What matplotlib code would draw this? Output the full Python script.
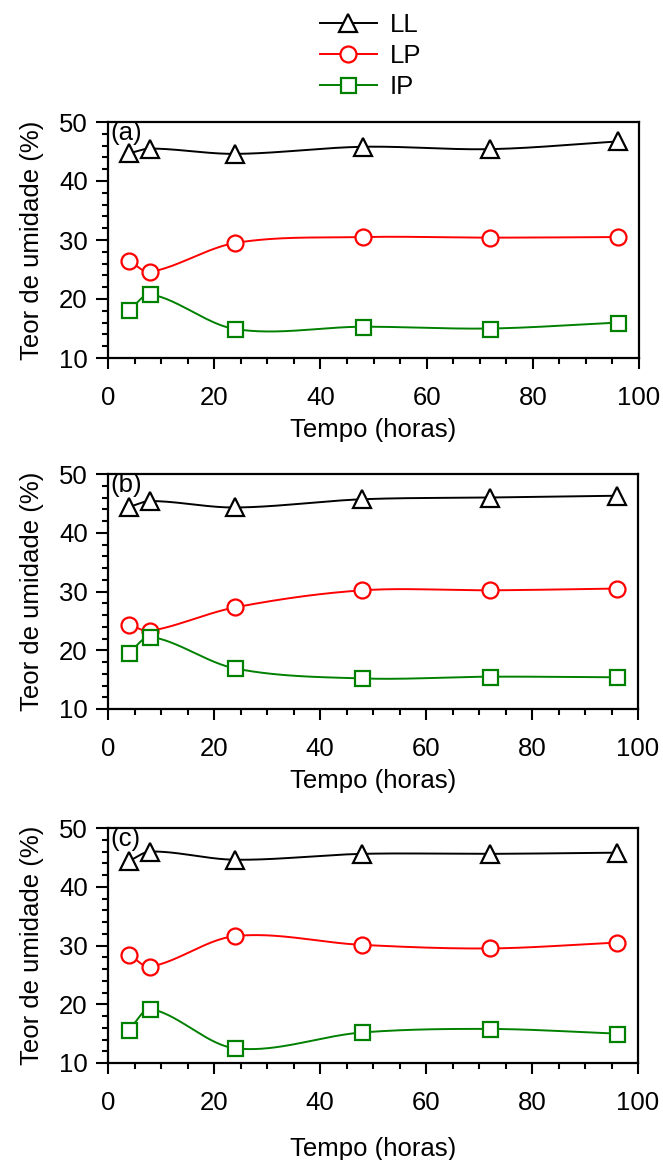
import numpy as np
import matplotlib
matplotlib.use("Agg")
import matplotlib.pyplot as plt
from matplotlib.ticker import MultipleLocator
from matplotlib.lines import Line2D

plt.rcParams['font.family'] = ['Liberation Sans', 'DejaVu Sans']
plt.rcParams['font.size'] = 18.5

# sampling times (hours)
tempo = [4, 8, 24, 48, 72, 96]

# moisture content (%) per panel
ll_a = [44.7, 45.5, 44.6, 45.8, 45.4, 46.7]
lp_a = [26.4, 24.6, 29.5, 30.5, 30.4, 30.5]
ip_a = [18.1, 20.8, 14.9, 15.3, 15.0, 16.0]

ll_b = [44.4, 45.4, 44.3, 45.7, 46.0, 46.3]
lp_b = [24.3, 23.3, 27.3, 30.2, 30.2, 30.5]
ip_b = [19.6, 22.3, 16.9, 15.2, 15.5, 15.4]

ll_c = [44.4, 46.0, 44.6, 45.6, 45.6, 45.8]
lp_c = [28.4, 26.4, 31.6, 30.1, 29.5, 30.5]
ip_c = [15.7, 19.2, 12.5, 15.2, 15.8, 15.0]

panel_labels = ['(a)', '(b)', '(c)']
series_names = ['LL', 'LP', 'IP']
series_colors = ['black', '#ff0000', '#008000']
series_markers = ['^', 'o', 's']
series_msize = [13.5, 11.5, 10.8]


def smooth_curve(x, y, n=300):
    """Cubic Hermite connector with finite-difference tangents (drawing only)."""
    x = np.asarray(x, float)
    y = np.asarray(y, float)
    k = len(x)
    m = np.zeros(k)
    m[0] = (y[1] - y[0]) / (x[1] - x[0])
    m[-1] = (y[-1] - y[-2]) / (x[-1] - x[-2])
    for i in range(1, k - 1):
        m[i] = (y[i + 1] - y[i - 1]) / (x[i + 1] - x[i - 1])
    xs = np.linspace(x[0], x[-1], n)
    idx = np.clip(np.searchsorted(x, xs) - 1, 0, k - 2)
    h = x[idx + 1] - x[idx]
    t = (xs - x[idx]) / h
    h00 = 2 * t ** 3 - 3 * t ** 2 + 1
    h10 = t ** 3 - 2 * t ** 2 + t
    h01 = -2 * t ** 3 + 3 * t ** 2
    h11 = t ** 3 - t ** 2
    ys = h00 * y[idx] + h10 * h * m[idx] + h01 * y[idx + 1] + h11 * h * m[idx + 1]
    return xs, ys


fig = plt.figure(figsize=(6.63, 11.6), dpi=100)

panels = [
    ([ll_a, lp_a, ip_a], [108 / 663, (1160 - 358) / 1160, 531 / 663, 236 / 1160], 6),
    ([ll_b, lp_b, ip_b], [108 / 663, (1160 - 709) / 1160, 530 / 663, 235 / 1160], 6),
    ([ll_c, lp_c, ip_c], [108 / 663, (1160 - 1063) / 1160, 530 / 663, 235 / 1160], 16),
]

for (data, rect, lpad), plabel in zip(panels, panel_labels):
    ax = fig.add_axes(rect)
    for vals, col, mk, ms in zip(data, series_colors, series_markers, series_msize):
        xs, ys = smooth_curve(tempo, vals)
        ax.plot(xs, ys, color=col, lw=1.4, zorder=2)
        ax.plot(tempo, vals, ls='none', marker=mk, ms=ms, mfc='white',
                mec=col, mew=1.6, zorder=3)
    ax.set_xlim(0, 100)
    ax.set_ylim(10, 50)
    ax.xaxis.set_major_locator(MultipleLocator(20))
    ax.xaxis.set_minor_locator(MultipleLocator(5))
    ax.yaxis.set_major_locator(MultipleLocator(10))
    ax.yaxis.set_minor_locator(MultipleLocator(2))
    ax.tick_params(which='both', direction='out', width=1.5, top=False, right=False)
    ax.tick_params(axis='x', which='major', length=8, pad=12)
    ax.tick_params(axis='y', which='major', length=8.5, pad=6)
    ax.tick_params(which='minor', length=4)
    for sp in ax.spines.values():
        sp.set_linewidth(1.6)
    ax.set_xlabel('Tempo (horas)', labelpad=lpad)
    ax.set_ylabel('Teor de umidade (%)', labelpad=11)
    ax.annotate(plabel, xy=(0, 1), xycoords='axes fraction', xytext=(2, 1),
                textcoords='offset points', ha='left', va='top', zorder=5)

handles = [Line2D([], [], color=c, lw=1.4, marker=m, ms=ms, mfc='white', mec=c, mew=1.6)
           for c, m, ms in zip(series_colors, series_markers, series_msize)]
fig.legend(handles, series_names, loc='upper left', bbox_to_anchor=(320 / 663, 1 - 13 / 1160),
           frameon=False, borderpad=0, borderaxespad=0, handlelength=2.2,
           handletextpad=0.5, labelspacing=0.28, fontsize=18.5)

fig.savefig('out.png', dpi=100)
